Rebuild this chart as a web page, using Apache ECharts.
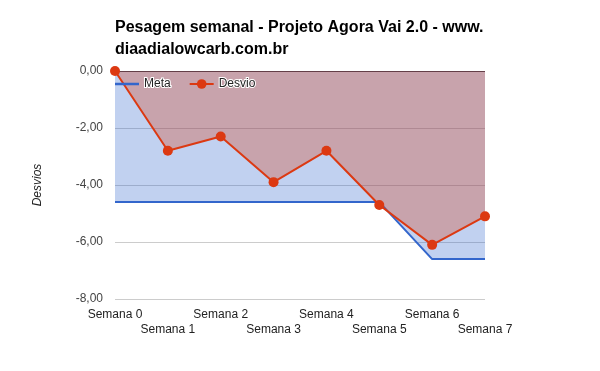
<!DOCTYPE html>
<html><head><meta charset="utf-8">
<script src="https://cdn.jsdelivr.net/npm/echarts@6/dist/echarts.min.js"></script>
<style>html,body{margin:0;padding:0;background:#fff}#c{width:600px;height:371px}</style>
</head><body><div id="c"></div>
<script>
const categories = ['Semana 0','Semana 1','Semana 2','Semana 3','Semana 4','Semana 5','Semana 6','Semana 7'];
const meta = [-4.6,-4.6,-4.6,-4.6,-4.6,-4.6,-6.6,-6.6];
const desvio = [0,-2.8,-2.3,-3.9,-2.8,-4.7,-6.1,-5.1];
const yTicks = [-8,-6,-4,-2,0];
const titleText = 'Pesagem semanal - Projeto Agora Vai 2.0 - www.\ndiaadialowcarb.com.br';

const FONT = 'Arial, "Liberation Sans", sans-serif';
const chart = echarts.init(document.getElementById('c'), null, {renderer:'canvas'});
chart.setOption({
  animation:false,
  backgroundColor:'#fff',
  title:{text:titleText,left:110,top:12,textStyle:{fontFamily:FONT,fontSize:16,fontWeight:'bold',color:'#000',lineHeight:22}},
  legend:{left:110,top:72,itemWidth:24,itemHeight:12,itemGap:17,symbolKeepAspect:true,
    textStyle:{fontFamily:FONT,fontSize:12,color:'#222',textBorderColor:'#fff',textBorderWidth:2},
    data:[{name:'Meta',icon:'path://M0,0H24V2.5H0Z',itemStyle:{color:'#3366cc'}},'Desvio']},
  grid:{left:115,right:115,top:71,bottom:72,containLabel:false},
  xAxis:{type:'category',data:categories,boundaryGap:false,
    axisLine:{show:false,onZero:false},axisTick:{show:false},splitLine:{show:false},
    axisLabel:{fontFamily:FONT,fontSize:12,color:'#222',margin:8,interval:0,lineHeight:15,
      formatter:(v,i)=> i%2===1 ? '\n'+v : v}},
  yAxis:{type:'value',min:yTicks[0],max:yTicks[yTicks.length-1],interval:2,
    name:'Desvios',nameLocation:'middle',nameGap:71,
    nameTextStyle:{fontFamily:FONT,fontSize:12,fontStyle:'italic',color:'#222'},
    axisLine:{show:false},axisTick:{show:false},
    axisLabel:{fontFamily:FONT,fontSize:12,color:'#444',margin:12,formatter:v=>v.toFixed(2).replace('.',',')},
    splitLine:{show:true,lineStyle:{color:['#cccccc','#cccccc','#cccccc','#cccccc','#333333'],width:1}}},
  series:[
    {name:'Meta',type:'line',data:meta,symbol:'none',color:'#3366cc',
      lineStyle:{width:2,color:'#3366cc'},areaStyle:{color:'#3366cc',opacity:0.3,origin:'end'},z:2},
    {name:'Desvio',type:'line',data:desvio,symbol:'circle',symbolSize:10,color:'#dc3912',
      itemStyle:{color:'#dc3912'},lineStyle:{width:2,color:'#dc3912'},
      areaStyle:{color:'#dc3912',opacity:0.3,origin:'end'},z:3}
  ]
});
</script></body></html>
